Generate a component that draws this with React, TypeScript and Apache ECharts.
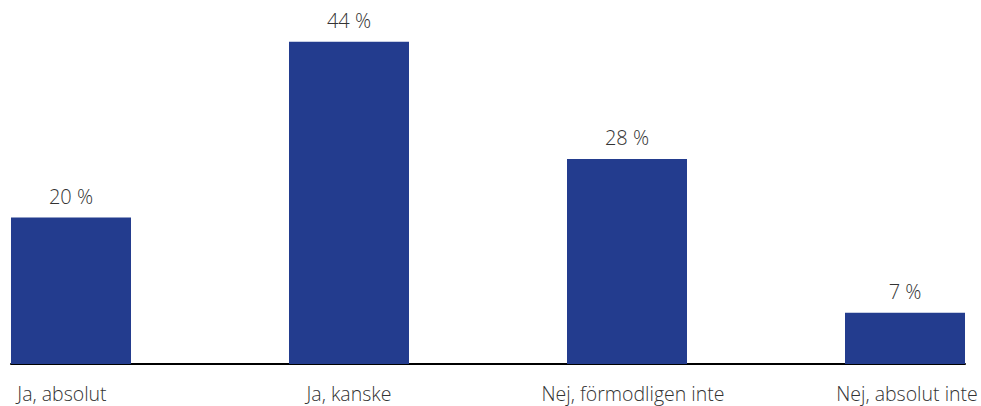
import React, { useEffect, useRef } from "react";
import * as echarts from "echarts";

const categories = ["Ja, absolut", "Ja, kanske", "Nej, förmodligen inte", "Nej, absolut inte"];
const values = [20, 44, 28, 7];
const labelShift = [-9, 0, 6, 2];

export default function App() {
  const ref = useRef<HTMLDivElement>(null);
  useEffect(() => {
    if (!ref.current) return;
    const chart = echarts.init(ref.current, undefined, { renderer: "svg" });
    const rich: any = {};
    labelShift.forEach((s, i) => {
      rich["l" + i] = {
        fontSize: 19.5,
        color: "#333",
        fontFamily: "Open Sans",
        fontWeight: 300,
        padding: s < 0 ? [0, -2 * s, 0, 0] : [0, 0, 0, 2 * s],
      };
    });
    chart.setOption({
      animation: false,
      grid: { left: 11, right: 16, top: 0, bottom: 42, containLabel: false },
      xAxis: {
        type: "value",
        min: -0.2158,
        max: 3.2158,
        splitLine: { show: false },
        axisTick: { show: false },
        axisLine: { show: true, onZero: false, lineStyle: { color: "#000", width: 2 } },
        axisLabel: {
          show: true,
          customValues: [0, 1, 2, 3],
          margin: 19,
          formatter: (v: number) => {
            const i = Math.round(v);
            return `{l${i}|${categories[i]}}`;
          },
          rich,
        },
      },
      yAxis: {
        type: "value",
        min: 0,
        max: 49.7,
        show: false,
        splitLine: { show: false },
      },
      series: [
        {
          type: "bar",
          barWidth: 120,
          clip: false,
          data: values.map((v, i) => [i, v]),
          itemStyle: { color: "#233c8e" },
          label: {
            show: true,
            position: "top",
            distance: 11,
            formatter: (p: any) => `${p.value[1]} %`,
            fontSize: 20,
            color: "#333",
            fontFamily: "Open Sans",
            fontWeight: 300,
          },
        },
      ],
    });
    return () => chart.dispose();
  }, []);
  return <div ref={ref} style={{ width: 981, height: 406, position: "absolute", left: 0, top: 0 }} />;
}
